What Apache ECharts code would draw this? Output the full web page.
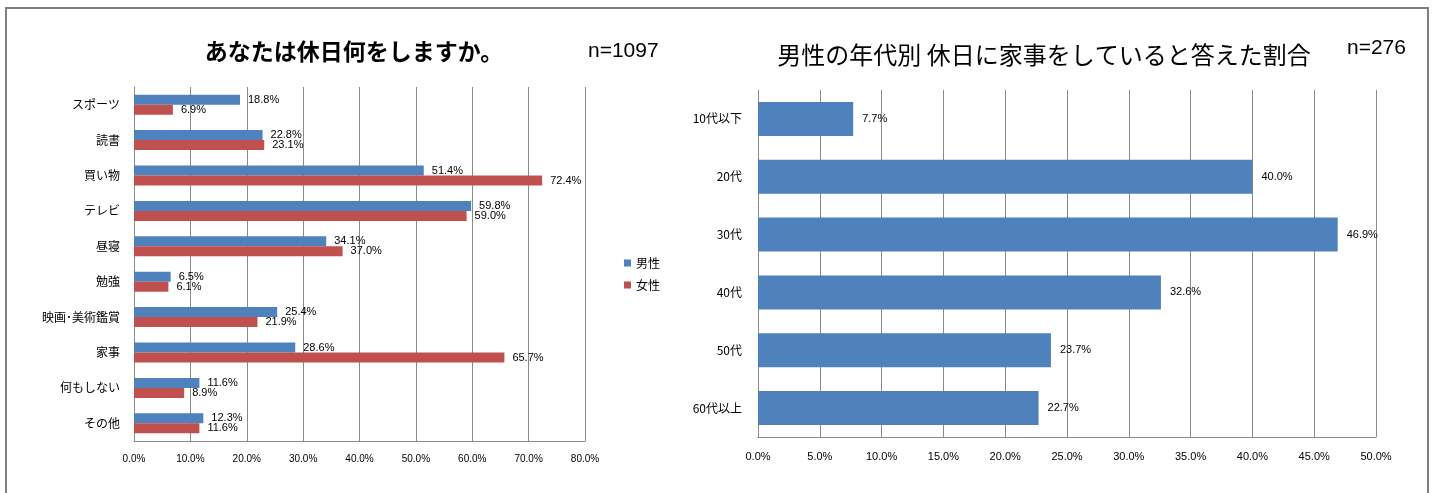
<!DOCTYPE html>
<html>
<head>
<meta charset="utf-8">
<script src="https://cdn.jsdelivr.net/npm/echarts@6/dist/echarts.min.js"></script>
<style>
  html, body { margin: 0; padding: 0; background: #fff; }
  body { position: relative; width: 1438px; height: 493px; overflow: hidden; }
  #frame { position: absolute; left: 5px; top: 7px; width: 1424px; height: 520px; border: 2px solid #7f7f7f; box-sizing: border-box; }
  #chart { position: absolute; left: 0; top: 0; width: 1438px; height: 493px; }
</style>
</head>
<body>
<div id="frame"></div>
<div id="chart"></div>
<script>
// 左: あなたは休日何をしますか。 (n=1097)
const activityCategories = ['スポーツ', '読書', '買い物', 'テレビ', '昼寝', '勉強', '映画･美術鑑賞', '家事', '何もしない', 'その他']
const maleActivity = [18.8, 22.8, 51.4, 59.8, 34.1, 6.5, 25.4, 28.6, 11.6, 12.3]
const femaleActivity = [6.9, 23.1, 72.4, 59.0, 37.0, 6.1, 21.9, 65.7, 8.9, 11.6]
const activityAxis = { min: 0, max: 80, interval: 10 }

// 右: 男性の年代別 休日に家事をしていると答えた割合 (n=276)
const ageCategories = ['10代以下', '20代', '30代', '40代', '50代', '60代以上']
const maleHouseworkRate = [7.7, 40.0, 46.9, 32.6, 23.7, 22.7]
const houseworkAxis = { min: 0, max: 50, interval: 5 }

const seriesNames = ['男性', '女性']

const jpFont = "'Noto Sans CJK JP', sans-serif"
const numFont = "'Liberation Sans', sans-serif"
const gridColor = '#8a8a8a'
const pct = (v) => Number(v).toFixed(1) + '%'

function valueAxis(gridIndex, range, fontSize, margin) {
  return {
    gridIndex,
    type: 'value',
    min: range.min,
    max: range.max,
    interval: range.interval,
    axisLine: { show: true, lineStyle: { color: gridColor } },
    axisTick: { show: false },
    axisLabel: { color: '#000', fontFamily: numFont, fontSize, margin, formatter: pct },
    splitLine: { show: true, lineStyle: { color: gridColor, width: 1 } }
  }
}

function categoryAxis(gridIndex, data, margin) {
  return {
    gridIndex,
    type: 'category',
    inverse: true,
    data,
    axisLine: { show: true, lineStyle: { color: gridColor } },
    axisTick: { show: false },
    axisLabel: { color: '#000', fontFamily: jpFont, fontSize: 12, margin }
  }
}

function barLabel(fontSize, distance) {
  return {
    show: true,
    position: 'right',
    distance,
    color: '#000',
    fontFamily: numFont,
    fontSize,
    formatter: (p) => pct(p.value)
  }
}

const chart = echarts.init(document.getElementById('chart'))

chart.setOption({
  animation: false,
  backgroundColor: 'transparent',
  textStyle: { fontFamily: jpFont },
  title: [
    {
      text: 'あなたは休日何をしますか。',
      left: 349,
      top: 35,
      textAlign: 'center',
      textStyle: { fontSize: 23, fontWeight: 'bold', color: '#000', fontFamily: jpFont }
    },
    {
      text: 'n=1097',
      left: 583,
      top: 36,
      textStyle: { fontSize: 21, fontWeight: 'normal', color: '#000', fontFamily: numFont }
    },
    {
      text: '男性の年代別 休日に家事をしていると答えた割合',
      left: 1039,
      top: 38,
      textAlign: 'center',
      textStyle: { fontSize: 24, fontWeight: 'normal', color: '#000', fontFamily: jpFont }
    },
    {
      text: 'n=276',
      left: 1342,
      top: 33,
      textStyle: { fontSize: 21, fontWeight: 'normal', color: '#000', fontFamily: numFont }
    }
  ],
  legend: {
    data: seriesNames,
    orient: 'vertical',
    left: 619,
    top: 252,
    icon: 'rect',
    itemWidth: 7,
    itemHeight: 7,
    itemGap: 10,
    textStyle: { fontSize: 12, color: '#000', fontFamily: jpFont }
  },
  grid: [
    { left: 134, top: 87, width: 451, height: 354 },
    { left: 758, top: 90, width: 618, height: 347 }
  ],
  xAxis: [
    valueAxis(0, activityAxis, 10, 13),
    valueAxis(1, houseworkAxis, 11, 14)
  ],
  yAxis: [
    categoryAxis(0, activityCategories, 14),
    categoryAxis(1, ageCategories, 16)
  ],
  series: [
    {
      name: seriesNames[0],
      type: 'bar',
      xAxisIndex: 0,
      yAxisIndex: 0,
      data: maleActivity,
      barWidth: 10,
      barGap: '0%',
      itemStyle: { color: '#4F81BD' },
      label: barLabel(11, 8)
    },
    {
      name: seriesNames[1],
      type: 'bar',
      xAxisIndex: 0,
      yAxisIndex: 0,
      data: femaleActivity,
      barWidth: 10,
      barGap: '0%',
      itemStyle: { color: '#C0504D' },
      label: barLabel(11, 8)
    },
    {
      name: '家事をしている男性',
      type: 'bar',
      xAxisIndex: 1,
      yAxisIndex: 1,
      data: maleHouseworkRate,
      barWidth: 34,
      itemStyle: { color: '#4F81BD' },
      label: barLabel(11, 9)
    }
  ]
})
</script>
</body>
</html>
